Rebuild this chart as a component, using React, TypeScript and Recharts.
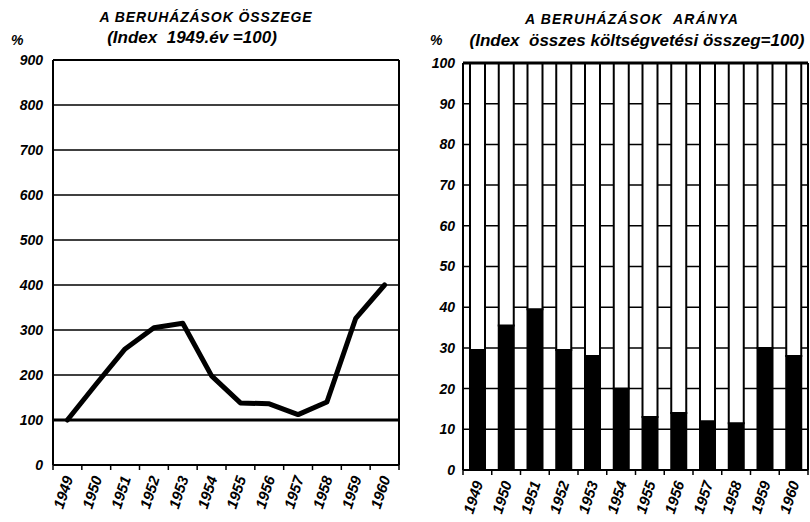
import { LineChart, Line, BarChart, Bar, XAxis, YAxis, CartesianGrid, ReferenceLine } from 'recharts'

const years = ['1949', '1950', '1951', '1952', '1953', '1954', '1955', '1956', '1957', '1958', '1959', '1960']
// beruházások összege, index 1949 = 100
const investmentIndex = [100, 180, 258, 305, 315, 198, 138, 136, 112, 140, 326, 400]
// beruházások aránya a költségvetésben, %
const investmentShare = [29.5, 35.5, 39.5, 29.5, 28, 20, 13, 14, 12, 11.5, 30, 28]
const indexTicks = [0, 100, 200, 300, 400, 500, 600, 700, 800, 900]
const shareTicks = [0, 10, 20, 30, 40, 50, 60, 70, 80, 90, 100]

const lineData = years.map((y, i) => ({ year: Number(y), value: investmentIndex[i] }))
const barData = years.map((y, i) => ({
  year: y,
  share: investmentShare[i],
  rest: 100 - investmentShare[i],
}))

const FONT = '"Liberation Sans", Arial, sans-serif'
const tickStyle = { fontFamily: FONT, fontSize: 14, fontWeight: 700, fontStyle: 'italic', fill: '#000' }
const yearStyle = { ...tickStyle, fontSize: 15 }

const LEFT_PLOT_W = 346
const RIGHT_PLOT_W = 345

function YearTick(props: any) {
  const { x, y, payload, index, band, count } = props
  const edge = x - band / 2
  return (
    <g>
      <line x1={edge} y1={y} x2={edge} y2={y + 5} stroke="#000" strokeWidth={1.5} />
      {index === count - 1 && (
        <line x1={x + band / 2} y1={y} x2={x + band / 2} y2={y + 5} stroke="#000" strokeWidth={1.5} />
      )}
      <text
        x={x + 6}
        y={y + 13}
        textAnchor="end"
        transform={`rotate(-72, ${x + 6}, ${y + 13})`}
        style={yearStyle}
      >
        {String(payload.value)}
      </text>
    </g>
  )
}

const titleStyle: any = {
  position: 'absolute',
  fontFamily: FONT,
  fontWeight: 700,
  fontStyle: 'italic',
  color: '#000',
  textAlign: 'center',
  whiteSpace: 'nowrap',
  lineHeight: 1,
}

export default function App() {
  return (
    <div style={{ position: 'absolute', left: 0, top: 0, width: 810, height: 522, background: '#fff', overflow: 'hidden' }}>
      <div style={{ ...titleStyle, left: 90, top: 10, width: 232, fontSize: 14, letterSpacing: 0.9 }}>A BERUHÁZÁSOK ÖSSZEGE</div>
      <div style={{ ...titleStyle, left: 96, top: 29, width: 192, fontSize: 17 }}>(Index&nbsp;&nbsp;1949.év =100)</div>
      <div style={{ ...titleStyle, left: 11, top: 33, fontSize: 14 }}>%</div>

      <div style={{ ...titleStyle, left: 510, top: 12, width: 244, fontSize: 14, letterSpacing: 1.2 }}>A BERUHÁZÁSOK&nbsp;&nbsp;ARÁNYA</div>
      <div style={{ ...titleStyle, left: 462, top: 32, width: 350, fontSize: 17 }}>(Index&nbsp;&nbsp;összes költségvetési összeg=100)</div>
      <div style={{ ...titleStyle, left: 430, top: 33, fontSize: 14 }}>%</div>

      <div style={{ position: 'absolute', left: 0, top: 0 }}>
        <LineChart width={405} height={522} data={lineData} margin={{ top: 60, right: 5, bottom: 7, left: 0 }}>
          <CartesianGrid vertical={false} stroke="#000" strokeWidth={1.5} />
          <XAxis
            type="number"
            dataKey="year"
            domain={[1948.5, 1960.5]}
            ticks={years.map(Number)}
            height={50}
            tickSize={0}
            tickMargin={0}
            tickLine={false}
            axisLine={{ stroke: '#000', strokeWidth: 2 }}
            tick={<YearTick band={LEFT_PLOT_W / years.length} count={years.length} />}
            interval={0}
          />
          <YAxis
            domain={[0, 900]}
            ticks={indexTicks}
            width={53}
            tickLine={false}
            tickSize={6}
            tickMargin={4}
            axisLine={{ stroke: '#000', strokeWidth: 2 }}
            tick={tickStyle}
            interval={0}
          />
          <YAxis yAxisId="r" orientation="right" domain={[0, 900]} width={1} tick={false} tickLine={false} axisLine={{ stroke: '#000', strokeWidth: 2 }} />
          <ReferenceLine y={100} stroke="#000" strokeWidth={3} />
          <ReferenceLine y={900} stroke="#000" strokeWidth={2} />
          <Line
            type="linear"
            dataKey="value"
            stroke="#000"
            strokeWidth={5}
            strokeLinejoin="round"
            strokeLinecap="round"
            dot={false}
            isAnimationActive={false}
          />
        </LineChart>
      </div>

      <div style={{ position: 'absolute', left: 405, top: 0 }}>
        <BarChart width={405} height={522} data={barData} margin={{ top: 63, right: 1, bottom: 2, left: 0 }}>
          <CartesianGrid vertical={false} stroke="#000" strokeWidth={1.5} />
          <XAxis
            dataKey="year"
            height={50}
            tickSize={0}
            tickMargin={0}
            tickLine={false}
            axisLine={{ stroke: '#000', strokeWidth: 2 }}
            tick={<YearTick band={RIGHT_PLOT_W / years.length} count={years.length} />}
            interval={0}
          />
          <YAxis
            domain={[0, 100]}
            ticks={shareTicks}
            width={58}
            tickLine={false}
            tickSize={6}
            tickMargin={2}
            axisLine={{ stroke: '#000', strokeWidth: 2 }}
            tick={tickStyle}
            interval={0}
          />
          <YAxis yAxisId="r" orientation="right" domain={[0, 100]} width={1} tick={false} tickLine={false} axisLine={{ stroke: '#000', strokeWidth: 2 }} />
          <ReferenceLine y={100} stroke="#000" strokeWidth={3} />
          <Bar dataKey="share" stackId="a" fill="#000" stroke="#000" strokeWidth={2} barSize={15} isAnimationActive={false} />
          <Bar dataKey="rest" stackId="a" fill="#fff" stroke="#000" strokeWidth={2} barSize={15} isAnimationActive={false} />
        </BarChart>
      </div>
    </div>
  )
}
